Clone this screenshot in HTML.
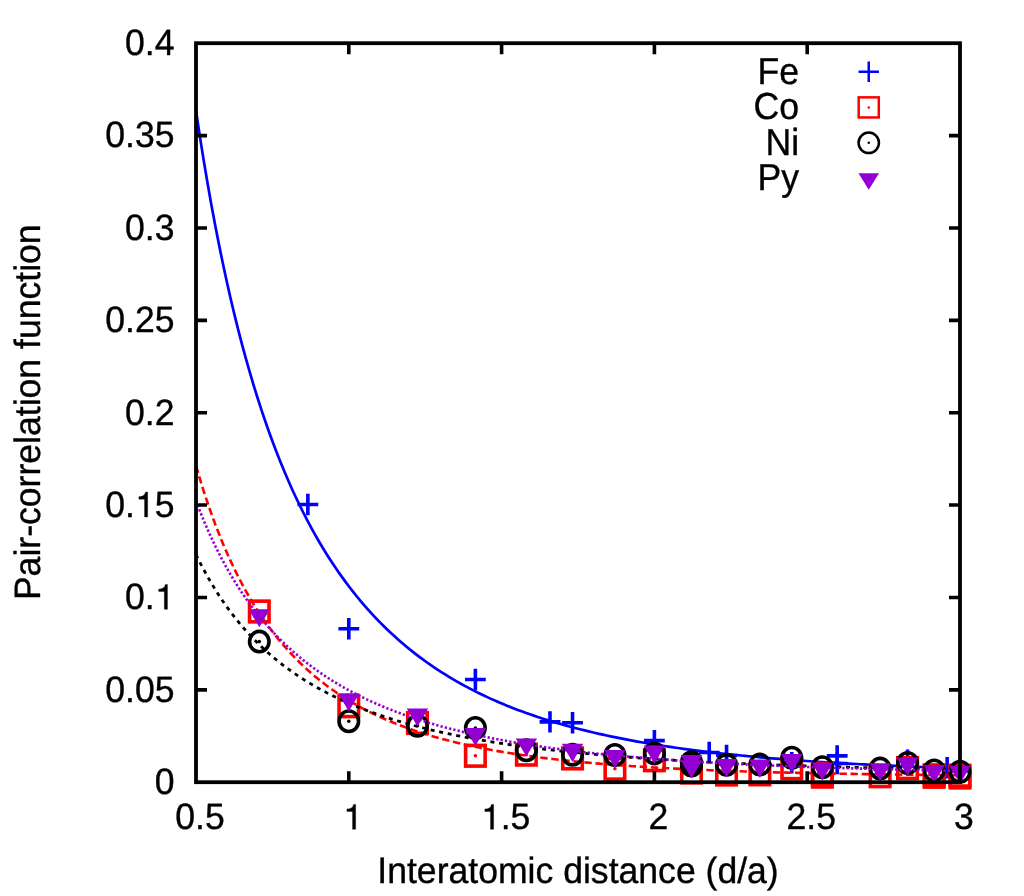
<!DOCTYPE html>
<html><head><meta charset="utf-8"><title>Pair-correlation function</title>
<style>html,body{margin:0;padding:0;background:#fff}body{width:1024px;height:896px;position:relative;overflow:hidden;font-family:"Liberation Sans",sans-serif}</style></head>
<body>
<svg width="1024" height="896" viewBox="0 0 1024 896" style="position:absolute;left:0;top:0;will-change:transform">
<rect width="1024" height="896" fill="#fff"/>
<g>
<g><path d="M297.45 504.50H318.25M307.85 493.80V515.20" stroke="#00f" stroke-width="3.60" fill="none"/><path d="M338.40 628.75H359.20M348.80 618.05V639.45" stroke="#00f" stroke-width="3.60" fill="none"/><path d="M464.98 679.50H485.78M475.38 668.80V690.20" stroke="#00f" stroke-width="3.60" fill="none"/><path d="M539.58 721.90H560.38M549.98 711.20V732.60" stroke="#00f" stroke-width="3.60" fill="none"/><path d="M562.13 722.75H582.93M572.53 712.05V733.45" stroke="#00f" stroke-width="3.60" fill="none"/><path d="M644.00 740.60H664.80M654.40 729.90V751.30" stroke="#00f" stroke-width="3.60" fill="none"/><path d="M698.82 752.50H719.62M709.22 741.80V763.20" stroke="#00f" stroke-width="3.60" fill="none"/><path d="M716.15 755.50H736.95M726.55 744.80V766.20" stroke="#00f" stroke-width="3.60" fill="none"/><path d="M781.37 762.80H802.17M791.77 752.10V773.50" stroke="#00f" stroke-width="3.60" fill="none"/><path d="M826.78 755.90H847.58M837.18 745.20V766.60" stroke="#00f" stroke-width="3.60" fill="none"/><path d="M826.78 763.50H847.58M837.18 752.80V774.20" stroke="#00f" stroke-width="3.60" fill="none"/><path d="M897.16 760.30H917.96M907.56 749.60V771.00" stroke="#00f" stroke-width="3.60" fill="none"/><path d="M936.76 767.80H957.56M947.16 757.10V778.50" stroke="#00f" stroke-width="3.60" fill="none"/><path d="M949.60 771.00H970.40M960.00 760.30V781.70" stroke="#00f" stroke-width="3.60" fill="none"/></g>
<path d="M196.00 110.69 L199.84 136.11 L203.68 160.19 L207.52 183.03 L211.36 204.70 L215.20 225.30 L219.04 244.88 L222.87 263.53 L226.71 281.29 L230.55 298.23 L234.39 314.39 L238.23 329.83 L242.07 344.58 L245.91 358.69 L249.75 372.19 L253.59 385.11 L257.43 397.50 L261.27 409.38 L265.11 420.77 L268.94 431.70 L272.78 442.21 L276.62 452.29 L280.46 461.99 L284.30 471.32 L288.14 480.29 L291.98 488.93 L295.82 497.25 L299.66 505.27 L303.50 512.99 L307.34 520.44 L311.18 527.63 L315.02 534.56 L318.85 541.25 L322.69 547.71 L326.53 553.95 L330.37 559.98 L334.21 565.81 L338.05 571.44 L341.89 576.89 L345.73 582.16 L349.57 587.26 L353.41 592.20 L357.25 596.98 L361.09 601.61 L364.92 606.09 L368.76 610.43 L372.60 614.64 L376.44 618.72 L380.28 622.68 L384.12 626.52 L387.96 630.24 L391.80 633.85 L395.64 637.36 L399.48 640.76 L403.32 644.06 L407.16 647.27 L410.99 650.38 L414.83 653.40 L418.67 656.34 L422.51 659.20 L426.35 661.97 L430.19 664.67 L434.03 667.29 L437.87 669.84 L441.71 672.32 L445.55 674.73 L449.39 677.08 L453.23 679.36 L457.07 681.58 L460.90 683.74 L464.74 685.85 L468.58 687.90 L472.42 689.89 L476.26 691.83 L480.10 693.72 L483.94 695.56 L487.78 697.36 L491.62 699.11 L495.46 700.81 L499.30 702.47 L503.14 704.09 L506.97 705.66 L510.81 707.20 L514.65 708.70 L518.49 710.16 L522.33 711.58 L526.17 712.97 L530.01 714.32 L533.85 715.65 L537.69 716.93 L541.53 718.19 L545.37 719.42 L549.21 720.62 L553.05 721.78 L556.88 722.92 L560.72 724.04 L564.56 725.12 L568.40 726.18 L572.24 727.22 L576.08 728.23 L579.92 729.22 L583.76 730.18 L587.60 731.12 L591.44 732.04 L595.28 732.94 L599.12 733.81 L602.95 734.67 L606.79 735.51 L610.63 736.32 L614.47 737.12 L618.31 737.90 L622.15 738.67 L625.99 739.41 L629.83 740.14 L633.67 740.85 L637.51 741.55 L641.35 742.23 L645.19 742.90 L649.03 743.55 L652.86 744.18 L656.70 744.81 L660.54 745.41 L664.38 746.01 L668.22 746.59 L672.06 747.16 L675.90 747.72 L679.74 748.26 L683.58 748.79 L687.42 749.31 L691.26 749.82 L695.10 750.32 L698.93 750.81 L702.77 751.29 L706.61 751.75 L710.45 752.21 L714.29 752.66 L718.13 753.10 L721.97 753.52 L725.81 753.94 L729.65 754.35 L733.49 754.75 L737.33 755.15 L741.17 755.53 L745.01 755.91 L748.84 756.28 L752.68 756.64 L756.52 756.99 L760.36 757.34 L764.20 757.68 L768.04 758.01 L771.88 758.34 L775.72 758.65 L779.56 758.97 L783.40 759.27 L787.24 759.57 L791.08 759.86 L794.91 760.15 L798.75 760.43 L802.59 760.71 L806.43 760.98 L810.27 761.24 L814.11 761.50 L817.95 761.75 L821.79 762.00 L825.63 762.24 L829.47 762.48 L833.31 762.72 L837.15 762.95 L840.98 763.17 L844.82 763.39 L848.66 763.61 L852.50 763.82 L856.34 764.02 L860.18 764.23 L864.02 764.43 L867.86 764.62 L871.70 764.81 L875.54 765.00 L879.38 765.18 L883.22 765.36 L887.06 765.54 L890.89 765.71 L894.73 765.88 L898.57 766.05 L902.41 766.21 L906.25 766.37 L910.09 766.53 L913.93 766.68 L917.77 766.83 L921.61 766.98 L925.45 767.12 L929.29 767.27 L933.13 767.41 L936.96 767.54 L940.80 767.68 L944.64 767.81 L948.48 767.94 L952.32 768.06 L956.16 768.19 L960.00 768.31" fill="none" stroke="#00f" stroke-width="2.7"/>
<g><rect x="249.54" y="601.15" width="19.50" height="20.70" stroke="#f00" stroke-width="3.60" fill="none"/><circle cx="259.29" cy="611.50" r="1.80" fill="#f00"/><rect x="339.05" y="695.90" width="19.50" height="20.70" stroke="#f00" stroke-width="3.60" fill="none"/><circle cx="348.80" cy="706.25" r="1.80" fill="#f00"/><rect x="407.72" y="712.65" width="19.50" height="20.70" stroke="#f00" stroke-width="3.60" fill="none"/><circle cx="417.47" cy="723.00" r="1.80" fill="#f00"/><rect x="465.63" y="745.40" width="19.50" height="20.70" stroke="#f00" stroke-width="3.60" fill="none"/><circle cx="475.38" cy="755.75" r="1.80" fill="#f00"/><rect x="516.63" y="744.25" width="19.50" height="20.70" stroke="#f00" stroke-width="3.60" fill="none"/><circle cx="526.38" cy="754.60" r="1.80" fill="#f00"/><rect x="562.78" y="748.05" width="19.50" height="20.70" stroke="#f00" stroke-width="3.60" fill="none"/><circle cx="572.53" cy="758.40" r="1.80" fill="#f00"/><rect x="605.17" y="758.40" width="19.50" height="20.70" stroke="#f00" stroke-width="3.60" fill="none"/><circle cx="614.92" cy="768.75" r="1.80" fill="#f00"/><rect x="644.65" y="749.85" width="19.50" height="20.70" stroke="#f00" stroke-width="3.60" fill="none"/><circle cx="654.40" cy="760.20" r="1.80" fill="#f00"/><rect x="681.72" y="762.15" width="19.50" height="20.70" stroke="#f00" stroke-width="3.60" fill="none"/><circle cx="691.47" cy="772.50" r="1.80" fill="#f00"/><rect x="716.80" y="764.15" width="19.50" height="20.70" stroke="#f00" stroke-width="3.60" fill="none"/><circle cx="726.55" cy="774.50" r="1.80" fill="#f00"/><rect x="750.14" y="763.95" width="19.50" height="20.70" stroke="#f00" stroke-width="3.60" fill="none"/><circle cx="759.89" cy="774.30" r="1.80" fill="#f00"/><rect x="782.02" y="757.95" width="19.50" height="20.70" stroke="#f00" stroke-width="3.60" fill="none"/><circle cx="791.77" cy="768.30" r="1.80" fill="#f00"/><rect x="812.58" y="766.25" width="19.50" height="20.70" stroke="#f00" stroke-width="3.60" fill="none"/><circle cx="822.33" cy="776.60" r="1.80" fill="#f00"/><rect x="812.58" y="763.35" width="19.50" height="20.70" stroke="#f00" stroke-width="3.60" fill="none"/><circle cx="822.33" cy="773.70" r="1.80" fill="#f00"/><rect x="870.37" y="765.85" width="19.50" height="20.70" stroke="#f00" stroke-width="3.60" fill="none"/><circle cx="880.12" cy="776.20" r="1.80" fill="#f00"/><rect x="897.81" y="757.75" width="19.50" height="20.70" stroke="#f00" stroke-width="3.60" fill="none"/><circle cx="907.56" cy="768.10" r="1.80" fill="#f00"/><rect x="924.43" y="766.40" width="19.50" height="20.70" stroke="#f00" stroke-width="3.60" fill="none"/><circle cx="934.18" cy="776.75" r="1.80" fill="#f00"/><rect x="924.43" y="764.95" width="19.50" height="20.70" stroke="#f00" stroke-width="3.60" fill="none"/><circle cx="934.18" cy="775.30" r="1.80" fill="#f00"/><rect x="950.25" y="767.15" width="19.50" height="20.70" stroke="#f00" stroke-width="3.60" fill="none"/><circle cx="960.00" cy="777.50" r="1.80" fill="#f00"/><rect x="950.25" y="765.35" width="19.50" height="20.70" stroke="#f00" stroke-width="3.60" fill="none"/><circle cx="960.00" cy="775.70" r="1.80" fill="#f00"/></g>
<path d="M196.00 465.73 L199.84 478.74 L203.68 491.04 L207.52 502.67 L211.36 513.68 L215.20 524.12 L219.04 534.02 L222.87 543.42 L226.71 552.36 L230.55 560.86 L234.39 568.95 L238.23 576.66 L242.07 584.01 L245.91 591.01 L249.75 597.70 L253.59 604.09 L257.43 610.19 L261.27 616.03 L265.11 621.61 L268.94 626.96 L272.78 632.08 L276.62 636.98 L280.46 641.68 L284.30 646.19 L288.14 650.52 L291.98 654.67 L295.82 658.66 L299.66 662.49 L303.50 666.18 L307.34 669.72 L311.18 673.12 L315.02 676.40 L318.85 679.55 L322.69 682.59 L326.53 685.51 L330.37 688.33 L334.21 691.04 L338.05 693.66 L341.89 696.18 L345.73 698.61 L349.57 700.96 L353.41 703.23 L357.25 705.41 L361.09 707.52 L364.92 709.56 L368.76 711.53 L372.60 713.43 L376.44 715.27 L380.28 717.05 L384.12 718.77 L387.96 720.43 L391.80 722.04 L395.64 723.59 L399.48 725.10 L403.32 726.55 L407.16 727.96 L410.99 729.33 L414.83 730.65 L418.67 731.93 L422.51 733.17 L426.35 734.37 L430.19 735.53 L434.03 736.66 L437.87 737.75 L441.71 738.81 L445.55 739.84 L449.39 740.84 L453.23 741.80 L457.07 742.74 L460.90 743.65 L464.74 744.53 L468.58 745.39 L472.42 746.22 L476.26 747.02 L480.10 747.80 L483.94 748.56 L487.78 749.30 L491.62 750.02 L495.46 750.71 L499.30 751.39 L503.14 752.04 L506.97 752.68 L510.81 753.30 L514.65 753.90 L518.49 754.49 L522.33 755.06 L526.17 755.61 L530.01 756.15 L533.85 756.67 L537.69 757.18 L541.53 757.67 L545.37 758.15 L549.21 758.62 L553.05 759.07 L556.88 759.51 L560.72 759.94 L564.56 760.36 L568.40 760.77 L572.24 761.16 L576.08 761.55 L579.92 761.92 L583.76 762.29 L587.60 762.64 L591.44 762.99 L595.28 763.32 L599.12 763.65 L602.95 763.97 L606.79 764.28 L610.63 764.58 L614.47 764.88 L618.31 765.16 L622.15 765.44 L625.99 765.71 L629.83 765.98 L633.67 766.24 L637.51 766.49 L641.35 766.73 L645.19 766.97 L649.03 767.20 L652.86 767.43 L656.70 767.65 L660.54 767.87 L664.38 768.08 L668.22 768.28 L672.06 768.48 L675.90 768.67 L679.74 768.86 L683.58 769.05 L687.42 769.23 L691.26 769.40 L695.10 769.57 L698.93 769.74 L702.77 769.90 L706.61 770.06 L710.45 770.21 L714.29 770.37 L718.13 770.51 L721.97 770.66 L725.81 770.80 L729.65 770.93 L733.49 771.06 L737.33 771.19 L741.17 771.32 L745.01 771.44 L748.84 771.56 L752.68 771.68 L756.52 771.80 L760.36 771.91 L764.20 772.02 L768.04 772.12 L771.88 772.23 L775.72 772.33 L779.56 772.43 L783.40 772.53 L787.24 772.62 L791.08 772.71 L794.91 772.80 L798.75 772.89 L802.59 772.98 L806.43 773.06 L810.27 773.14 L814.11 773.22 L817.95 773.30 L821.79 773.37 L825.63 773.45 L829.47 773.52 L833.31 773.59 L837.15 773.66 L840.98 773.73 L844.82 773.79 L848.66 773.86 L852.50 773.92 L856.34 773.98 L860.18 774.04 L864.02 774.10 L867.86 774.16 L871.70 774.21 L875.54 774.27 L879.38 774.32 L883.22 774.37 L887.06 774.42 L890.89 774.47 L894.73 774.52 L898.57 774.57 L902.41 774.62 L906.25 774.66 L910.09 774.71 L913.93 774.75 L917.77 774.79 L921.61 774.83 L925.45 774.87 L929.29 774.91 L933.13 774.95 L936.96 774.99 L940.80 775.02 L944.64 775.06 L948.48 775.09 L952.32 775.13 L956.16 775.16 L960.00 775.20" fill="none" stroke="#f00" stroke-width="2.6" stroke-dasharray="7.4 3.7"/>
<g><ellipse cx="259.29" cy="641.60" rx="9.75" ry="10.20" stroke="#000" stroke-width="3.60" fill="none"/><circle cx="259.29" cy="641.60" r="1.80" fill="#000"/><ellipse cx="348.80" cy="721.25" rx="9.75" ry="10.20" stroke="#000" stroke-width="3.60" fill="none"/><circle cx="348.80" cy="721.25" r="1.80" fill="#000"/><ellipse cx="417.47" cy="725.75" rx="9.75" ry="10.20" stroke="#000" stroke-width="3.60" fill="none"/><circle cx="417.47" cy="725.75" r="1.80" fill="#000"/><ellipse cx="475.38" cy="728.00" rx="9.75" ry="10.20" stroke="#000" stroke-width="3.60" fill="none"/><circle cx="475.38" cy="728.00" r="1.80" fill="#000"/><ellipse cx="526.38" cy="750.25" rx="9.75" ry="10.20" stroke="#000" stroke-width="3.60" fill="none"/><circle cx="526.38" cy="750.25" r="1.80" fill="#000"/><ellipse cx="572.53" cy="754.70" rx="9.75" ry="10.20" stroke="#000" stroke-width="3.60" fill="none"/><circle cx="572.53" cy="754.70" r="1.80" fill="#000"/><ellipse cx="614.92" cy="755.00" rx="9.75" ry="10.20" stroke="#000" stroke-width="3.60" fill="none"/><circle cx="614.92" cy="755.00" r="1.80" fill="#000"/><ellipse cx="654.40" cy="753.40" rx="9.75" ry="10.20" stroke="#000" stroke-width="3.60" fill="none"/><circle cx="654.40" cy="753.40" r="1.80" fill="#000"/><ellipse cx="691.47" cy="762.20" rx="9.75" ry="10.20" stroke="#000" stroke-width="3.60" fill="none"/><circle cx="691.47" cy="762.20" r="1.80" fill="#000"/><ellipse cx="691.47" cy="765.60" rx="9.75" ry="10.20" stroke="#000" stroke-width="3.60" fill="none"/><circle cx="691.47" cy="765.60" r="1.80" fill="#000"/><ellipse cx="726.55" cy="764.80" rx="9.75" ry="10.20" stroke="#000" stroke-width="3.60" fill="none"/><circle cx="726.55" cy="764.80" r="1.80" fill="#000"/><ellipse cx="759.89" cy="764.60" rx="9.75" ry="10.20" stroke="#000" stroke-width="3.60" fill="none"/><circle cx="759.89" cy="764.60" r="1.80" fill="#000"/><ellipse cx="791.77" cy="757.70" rx="9.75" ry="10.20" stroke="#000" stroke-width="3.60" fill="none"/><circle cx="791.77" cy="757.70" r="1.80" fill="#000"/><ellipse cx="822.33" cy="767.20" rx="9.75" ry="10.20" stroke="#000" stroke-width="3.60" fill="none"/><circle cx="822.33" cy="767.20" r="1.80" fill="#000"/><ellipse cx="880.12" cy="768.60" rx="9.75" ry="10.20" stroke="#000" stroke-width="3.60" fill="none"/><circle cx="880.12" cy="768.60" r="1.80" fill="#000"/><ellipse cx="907.56" cy="763.00" rx="9.75" ry="10.20" stroke="#000" stroke-width="3.60" fill="none"/><circle cx="907.56" cy="763.00" r="1.80" fill="#000"/><ellipse cx="934.18" cy="770.45" rx="9.75" ry="10.20" stroke="#000" stroke-width="3.60" fill="none"/><circle cx="934.18" cy="770.45" r="1.80" fill="#000"/><ellipse cx="960.00" cy="771.70" rx="9.75" ry="10.20" stroke="#000" stroke-width="3.60" fill="none"/><circle cx="960.00" cy="771.70" r="1.80" fill="#000"/></g>
<path d="M196.00 554.50 L199.84 562.23 L203.68 569.57 L207.52 576.54 L211.36 583.17 L215.20 589.48 L219.04 595.50 L222.87 601.23 L226.71 606.70 L230.55 611.93 L234.39 616.93 L238.23 621.71 L242.07 626.29 L245.91 630.68 L249.75 634.88 L253.59 638.92 L257.43 642.80 L261.27 646.52 L265.11 650.10 L268.94 653.54 L272.78 656.85 L276.62 660.04 L280.46 663.11 L284.30 666.07 L288.14 668.93 L291.98 671.68 L295.82 674.34 L299.66 676.91 L303.50 679.38 L307.34 681.78 L311.18 684.09 L315.02 686.33 L318.85 688.50 L322.69 690.59 L326.53 692.62 L330.37 694.58 L334.21 696.49 L338.05 698.33 L341.89 700.12 L345.73 701.85 L349.57 703.53 L353.41 705.16 L357.25 706.74 L361.09 708.28 L364.92 709.77 L368.76 711.22 L372.60 712.62 L376.44 713.99 L380.28 715.32 L384.12 716.61 L387.96 717.86 L391.80 719.08 L395.64 720.27 L399.48 721.43 L403.32 722.55 L407.16 723.65 L410.99 724.71 L414.83 725.75 L418.67 726.76 L422.51 727.74 L426.35 728.70 L430.19 729.64 L434.03 730.55 L437.87 731.43 L441.71 732.30 L445.55 733.14 L449.39 733.97 L453.23 734.77 L457.07 735.55 L460.90 736.31 L464.74 737.06 L468.58 737.79 L472.42 738.50 L476.26 739.19 L480.10 739.87 L483.94 740.53 L487.78 741.17 L491.62 741.80 L495.46 742.42 L499.30 743.02 L503.14 743.61 L506.97 744.18 L510.81 744.74 L514.65 745.29 L518.49 745.83 L522.33 746.35 L526.17 746.86 L530.01 747.36 L533.85 747.85 L537.69 748.33 L541.53 748.80 L545.37 749.26 L549.21 749.71 L553.05 750.15 L556.88 750.58 L560.72 751.00 L564.56 751.41 L568.40 751.81 L572.24 752.21 L576.08 752.59 L579.92 752.97 L583.76 753.34 L587.60 753.70 L591.44 754.06 L595.28 754.40 L599.12 754.74 L602.95 755.08 L606.79 755.40 L610.63 755.72 L614.47 756.04 L618.31 756.34 L622.15 756.64 L625.99 756.94 L629.83 757.23 L633.67 757.51 L637.51 757.79 L641.35 758.06 L645.19 758.33 L649.03 758.59 L652.86 758.84 L656.70 759.09 L660.54 759.34 L664.38 759.58 L668.22 759.82 L672.06 760.05 L675.90 760.28 L679.74 760.50 L683.58 760.72 L687.42 760.94 L691.26 761.15 L695.10 761.35 L698.93 761.56 L702.77 761.76 L706.61 761.95 L710.45 762.14 L714.29 762.33 L718.13 762.52 L721.97 762.70 L725.81 762.88 L729.65 763.05 L733.49 763.22 L737.33 763.39 L741.17 763.55 L745.01 763.72 L748.84 763.88 L752.68 764.03 L756.52 764.19 L760.36 764.34 L764.20 764.48 L768.04 764.63 L771.88 764.77 L775.72 764.91 L779.56 765.05 L783.40 765.18 L787.24 765.32 L791.08 765.45 L794.91 765.57 L798.75 765.70 L802.59 765.82 L806.43 765.95 L810.27 766.06 L814.11 766.18 L817.95 766.30 L821.79 766.41 L825.63 766.52 L829.47 766.63 L833.31 766.74 L837.15 766.84 L840.98 766.95 L844.82 767.05 L848.66 767.15 L852.50 767.25 L856.34 767.34 L860.18 767.44 L864.02 767.53 L867.86 767.62 L871.70 767.71 L875.54 767.80 L879.38 767.89 L883.22 767.97 L887.06 768.06 L890.89 768.14 L894.73 768.22 L898.57 768.30 L902.41 768.38 L906.25 768.46 L910.09 768.53 L913.93 768.61 L917.77 768.68 L921.61 768.75 L925.45 768.83 L929.29 768.90 L933.13 768.96 L936.96 769.03 L940.80 769.10 L944.64 769.16 L948.48 769.23 L952.32 769.29 L956.16 769.35 L960.00 769.42" fill="none" stroke="#000" stroke-width="2.8" stroke-dasharray="4 4.7"/>
<g><path d="M248.59 609.15L269.99 609.15L259.29 627.35Z" fill="#9400d3"/><path d="M338.10 693.20L359.50 693.20L348.80 711.40Z" fill="#9400d3"/><path d="M406.77 708.40L428.17 708.40L417.47 726.60Z" fill="#9400d3"/><path d="M464.68 727.90L486.08 727.90L475.38 746.10Z" fill="#9400d3"/><path d="M515.68 738.40L537.08 738.40L526.38 756.60Z" fill="#9400d3"/><path d="M561.83 743.80L583.23 743.80L572.53 762.00Z" fill="#9400d3"/><path d="M604.22 749.90L625.62 749.90L614.92 768.10Z" fill="#9400d3"/><path d="M643.70 745.50L665.10 745.50L654.40 763.70Z" fill="#9400d3"/><path d="M680.77 754.90L702.17 754.90L691.47 773.10Z" fill="#9400d3"/><path d="M680.77 760.20L702.17 760.20L691.47 778.40Z" fill="#9400d3"/><path d="M715.85 759.00L737.25 759.00L726.55 777.20Z" fill="#9400d3"/><path d="M749.19 759.60L770.59 759.60L759.89 777.80Z" fill="#9400d3"/><path d="M781.07 754.10L802.47 754.10L791.77 772.30Z" fill="#9400d3"/><path d="M811.63 762.40L833.03 762.40L822.33 780.60Z" fill="#9400d3"/><path d="M869.42 763.20L890.82 763.20L880.12 781.40Z" fill="#9400d3"/><path d="M896.86 757.50L918.26 757.50L907.56 775.70Z" fill="#9400d3"/><path d="M923.48 764.90L944.88 764.90L934.18 783.10Z" fill="#9400d3"/><path d="M949.30 765.70L970.70 765.70L960.00 783.90Z" fill="#9400d3"/></g>
<path d="M196.00 501.07 L199.84 510.99 L203.68 520.40 L207.52 529.33 L211.36 537.82 L215.20 545.90 L219.04 553.59 L222.87 560.92 L226.71 567.91 L230.55 574.59 L234.39 580.97 L238.23 587.07 L242.07 592.91 L245.91 598.50 L249.75 603.86 L253.59 609.00 L257.43 613.93 L261.27 618.66 L265.11 623.21 L268.94 627.58 L272.78 631.79 L276.62 635.83 L280.46 639.73 L284.30 643.48 L288.14 647.09 L291.98 650.58 L295.82 653.94 L299.66 657.18 L303.50 660.31 L307.34 663.33 L311.18 666.25 L315.02 669.07 L318.85 671.80 L322.69 674.44 L326.53 676.99 L330.37 679.46 L334.21 681.85 L338.05 684.17 L341.89 686.41 L345.73 688.58 L349.57 690.69 L353.41 692.73 L357.25 694.71 L361.09 696.63 L364.92 698.50 L368.76 700.31 L372.60 702.06 L376.44 703.77 L380.28 705.42 L384.12 707.03 L387.96 708.59 L391.80 710.11 L395.64 711.59 L399.48 713.02 L403.32 714.42 L407.16 715.78 L410.99 717.10 L414.83 718.38 L418.67 719.63 L422.51 720.85 L426.35 722.03 L430.19 723.19 L434.03 724.31 L437.87 725.41 L441.71 726.47 L445.55 727.51 L449.39 728.52 L453.23 729.51 L457.07 730.47 L460.90 731.41 L464.74 732.32 L468.58 733.22 L472.42 734.09 L476.26 734.93 L480.10 735.76 L483.94 736.57 L487.78 737.36 L491.62 738.13 L495.46 738.88 L499.30 739.61 L503.14 740.33 L506.97 741.02 L510.81 741.71 L514.65 742.37 L518.49 743.02 L522.33 743.66 L526.17 744.28 L530.01 744.89 L533.85 745.48 L537.69 746.06 L541.53 746.63 L545.37 747.18 L549.21 747.72 L553.05 748.25 L556.88 748.77 L560.72 749.28 L564.56 749.77 L568.40 750.26 L572.24 750.73 L576.08 751.19 L579.92 751.64 L583.76 752.09 L587.60 752.52 L591.44 752.95 L595.28 753.36 L599.12 753.77 L602.95 754.16 L606.79 754.55 L610.63 754.94 L614.47 755.31 L618.31 755.67 L622.15 756.03 L625.99 756.38 L629.83 756.72 L633.67 757.06 L637.51 757.39 L641.35 757.71 L645.19 758.03 L649.03 758.33 L652.86 758.64 L656.70 758.93 L660.54 759.22 L664.38 759.51 L668.22 759.79 L672.06 760.06 L675.90 760.33 L679.74 760.59 L683.58 760.85 L687.42 761.10 L691.26 761.35 L695.10 761.59 L698.93 761.83 L702.77 762.06 L706.61 762.29 L710.45 762.51 L714.29 762.73 L718.13 762.95 L721.97 763.16 L725.81 763.37 L729.65 763.57 L733.49 763.77 L737.33 763.96 L741.17 764.15 L745.01 764.34 L748.84 764.53 L752.68 764.71 L756.52 764.88 L760.36 765.06 L764.20 765.23 L768.04 765.40 L771.88 765.56 L775.72 765.72 L779.56 765.88 L783.40 766.04 L787.24 766.19 L791.08 766.34 L794.91 766.48 L798.75 766.63 L802.59 766.77 L806.43 766.91 L810.27 767.04 L814.11 767.18 L817.95 767.31 L821.79 767.44 L825.63 767.56 L829.47 767.69 L833.31 767.81 L837.15 767.93 L840.98 768.05 L844.82 768.16 L848.66 768.28 L852.50 768.39 L856.34 768.50 L860.18 768.60 L864.02 768.71 L867.86 768.81 L871.70 768.91 L875.54 769.01 L879.38 769.11 L883.22 769.21 L887.06 769.30 L890.89 769.40 L894.73 769.49 L898.57 769.58 L902.41 769.66 L906.25 769.75 L910.09 769.84 L913.93 769.92 L917.77 770.00 L921.61 770.08 L925.45 770.16 L929.29 770.24 L933.13 770.32 L936.96 770.39 L940.80 770.46 L944.64 770.54 L948.48 770.61 L952.32 770.68 L956.16 770.75 L960.00 770.82" fill="none" stroke="#9400d3" stroke-width="2.6" stroke-dasharray="2.3 2.1"/>
</g>
<g stroke="#000" stroke-width="3.80" fill="none">
<rect x="196.00" y="43.20" width="764.00" height="739.00"/>
<path d="M196.00 689.83h11.00M960.00 689.83h-11.00M196.00 597.45h11.00M960.00 597.45h-11.00M196.00 505.07h11.00M960.00 505.07h-11.00M196.00 412.70h11.00M960.00 412.70h-11.00M196.00 320.33h11.00M960.00 320.33h-11.00M196.00 227.95h11.00M960.00 227.95h-11.00M196.00 135.58h11.00M960.00 135.58h-11.00M348.80 782.20v-11.00M348.80 43.20v11.00M501.60 782.20v-11.00M501.60 43.20v11.00M654.40 782.20v-11.00M654.40 43.20v11.00M807.20 782.20v-11.00M807.20 43.20v11.00" stroke-width="3.6"/>
</g>
<g font-family="'Liberation Sans', sans-serif" font-size="35.6" fill="#000" stroke="#000" stroke-width="0.35" style="text-rendering:geometricPrecision">
<text transform="translate(154.70 794.10) scale(1 1.028)" text-anchor="start">0</text>
<text transform="translate(105.21 701.73) scale(1 1.028)" text-anchor="start">0.05</text>
<text transform="translate(125.01 609.35) scale(1 1.028)" text-anchor="start">0.</text><path d="M167.45 609.35L167.45 584.45L165.40 584.45Q164.40 589.05 158.70 589.15L158.70 591.55L164.35 591.55L164.35 609.35Z"/>
<text transform="translate(105.21 516.98) scale(1 1.028)" text-anchor="start">0.</text><path d="M147.65 516.98L147.65 492.08L145.60 492.08Q144.60 496.68 138.90 496.78L138.90 499.18L144.55 499.18L144.55 516.98Z"/><text transform="translate(154.70 516.98) scale(1 1.028)" text-anchor="start">5</text>
<text transform="translate(125.01 424.60) scale(1 1.028)" text-anchor="start">0.2</text>
<text transform="translate(105.21 332.23) scale(1 1.028)" text-anchor="start">0.25</text>
<text transform="translate(125.01 239.85) scale(1 1.028)" text-anchor="start">0.3</text>
<text transform="translate(105.21 147.48) scale(1 1.028)" text-anchor="start">0.35</text>
<text transform="translate(125.01 55.10) scale(1 1.028)" text-anchor="start">0.4</text>
<text transform="translate(175.26 829.30) scale(1 1.028)" text-anchor="start">0.5</text>
<path d="M355.65 829.30L355.65 804.40L353.60 804.40Q352.60 809.00 346.90 809.10L346.90 811.50L352.55 811.50L352.55 829.30Z"/>
<path d="M493.61 829.30L493.61 804.40L491.56 804.40Q490.56 809.00 484.86 809.10L484.86 811.50L490.51 811.50L490.51 829.30Z"/><text transform="translate(500.65 829.30) scale(1 1.028)" text-anchor="start">.5</text>
<text transform="translate(648.50 829.30) scale(1 1.028)" text-anchor="start">2</text>
<text transform="translate(786.46 829.30) scale(1 1.028)" text-anchor="start">2.5</text>
<text transform="translate(954.10 829.30) scale(1 1.028)" text-anchor="start">3</text>
<text transform="translate(578.00 883.00) scale(1 1.030)" text-anchor="middle">Interatomic distance (d/a)</text>
<text transform="translate(40.25 412.25) rotate(-90) scale(1 1.030)" text-anchor="middle">Pair-correlation function</text>
<text transform="translate(799.10 83.60) scale(1 1.055)" text-anchor="end">Fe</text>
<text transform="translate(799.10 119.30) scale(1 1.055)" text-anchor="end">Co</text>
<text transform="translate(799.10 154.70) scale(1 1.055)" text-anchor="end">Ni</text>
<text transform="translate(799.10 190.20) scale(1 1.055)" text-anchor="end">Py</text>
</g>
<path d="M858.55 71.70H878.95M868.75 61.50V81.90" stroke="#00f" stroke-width="2.50" fill="none"/>
<rect x="858.70" y="97.35" width="20.10" height="20.10" stroke="#f00" stroke-width="2.50" fill="none"/><circle cx="868.75" cy="107.40" r="1.25" fill="#f00"/>
<ellipse cx="868.75" cy="142.80" rx="10.20" ry="10.20" stroke="#000" stroke-width="2.50" fill="none"/><circle cx="868.75" cy="142.80" r="1.25" fill="#000"/>
<path d="M858.45 173.20L879.05 173.20L868.75 189.80Z" fill="#9400d3"/>
</svg>
</body></html>
